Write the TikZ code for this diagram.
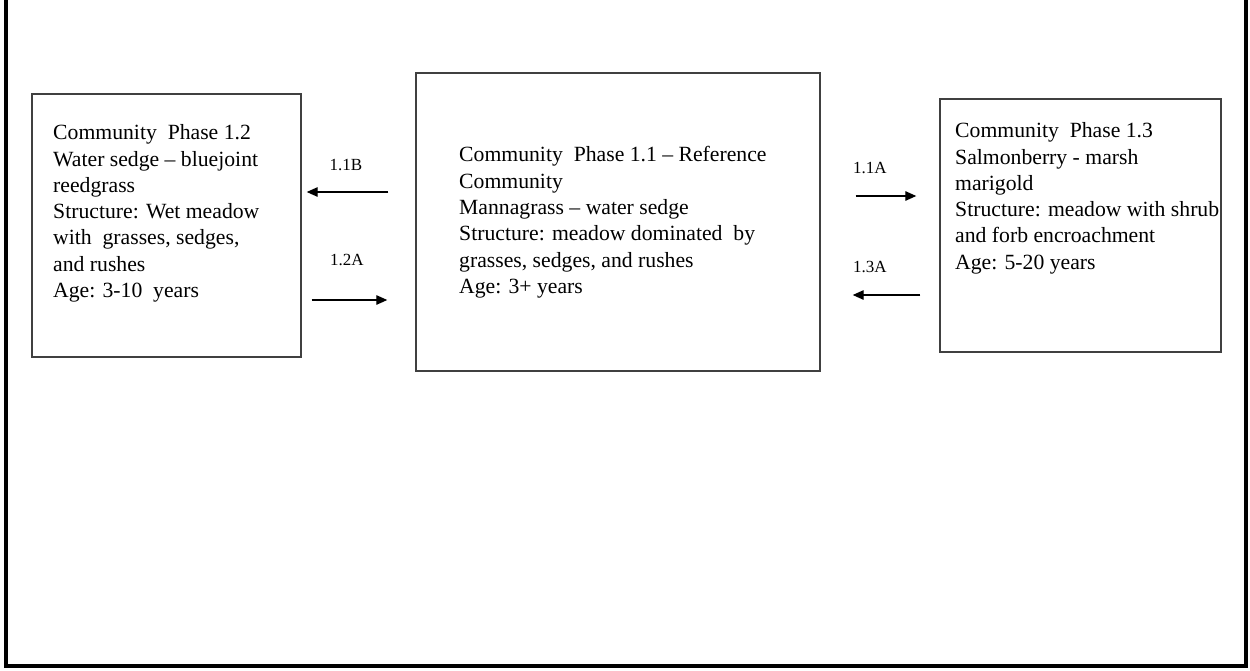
\documentclass[tikz,border=0pt]{standalone}
\usepackage{fontspec}
\setmainfont{Liberation Serif}
\usetikzlibrary{arrows.meta}
\begin{document}
\begin{tikzpicture}[x=1pt,y=-1pt,
  phasebox/.style={draw=black!75,line width=1.4pt,rectangle,inner sep=0pt},
  phasetext/.style={anchor=north west,inner sep=0pt,align=left,font=\fontsize{21.7}{26.3}\selectfont,text=black},
  arrlabel/.style={inner sep=0pt,font=\fontsize{17}{19}\selectfont,text=black},
  arr/.style={line width=1.3pt,draw=black,-{Triangle[length=11pt,width=9.5pt]}}]
\useasboundingbox (0,0) rectangle (1250,670);
% outer frame (top edge lies outside the picture)
\draw[line width=4pt,black] (6,-5) -- (6,666) -- (1246,666) -- (1246,-5);
% boxes
\node[phasebox,minimum width=269pt,minimum height=263pt] (p12) at (166.5,225.5) {};
\node[phasebox,minimum width=404pt,minimum height=298pt] (p11) at (618,222) {};
\node[phasebox,minimum width=281pt,minimum height=253pt] (p13) at (1080.5,225.5) {};
% texts
\node[phasetext] (t12) at (53,124.5) {Community\ \ Phase 1.2\\Water sedge -- bluejoint\\reedgrass\\Structure: Wet meadow\\with\ \ grasses, sedges,\\and rushes\\Age: 3-10\ \ years};
\node[phasetext] (t11) at (459,146.5) {Community\ \ Phase 1.1 -- Reference\\Community\\Mannagrass -- water sedge\\Structure: meadow dominated\ \ by\\grasses, sedges, and rushes\\Age: 3+ years};
\node[phasetext] (t13) at (955,122.5) {Community\ \ Phase 1.3\\Salmonberry - marsh\\marigold\\Structure: meadow with shrub\\and forb encroachment\\Age: 5-20 years};
% labels
\node[arrlabel] (l11b) at (346,165) {1.1B};
\node[arrlabel] (l12a) at (347,260) {1.2A};
\node[arrlabel] (l11a) at (870,168) {1.1A};
\node[arrlabel] (l13a) at (870,267) {1.3A};
% connectors
\draw[arr,shorten <=27pt,shorten >=5pt] (p11.west |- 0,192) -- (p12.east |- 0,192);
\draw[arr,shorten <=10pt,shorten >=28pt] (p12.east |- 0,300) -- (p11.west |- 0,300);
\draw[arr,shorten <=35pt,shorten >=23pt] (p11.east |- 0,196) -- (p13.west |- 0,196);
\draw[arr,shorten <=19pt,shorten >=32pt] (p13.west |- 0,295) -- (p11.east |- 0,295);
\end{tikzpicture}
\end{document}
